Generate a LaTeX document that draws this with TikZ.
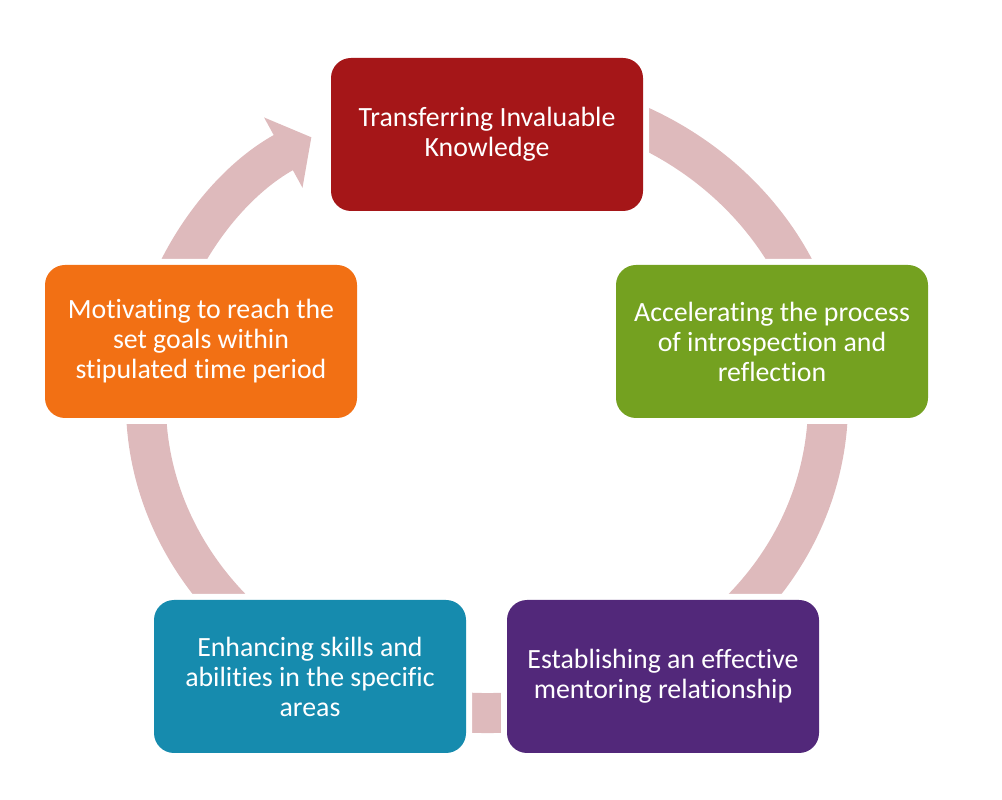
\documentclass[tikz,border=0pt]{standalone}
\usepackage{fontspec}
\setmainfont{Carlito}[Ligatures=NoCommon]
\usepackage{tikz}
\usetikzlibrary{arrows.meta,calc}
\definecolor{ringpink}{RGB}{222,186,188}
\definecolor{stepred}{RGB}{165,22,24}
\definecolor{stepgreen}{RGB}{116,161,32}
\definecolor{steppurple}{RGB}{82,40,122}
\definecolor{stepteal}{RGB}{22,139,174}
\definecolor{steporange}{RGB}{242,112,20}
\tikzset{
  cyclebox/.style={rounded corners=0.5cm, minimum width=7.8cm, minimum height=3.825cm,
    align=center, text=white, inner sep=0pt,
    preaction={draw=white, line width=0.3cm},
    font=\fontsize{19.8}{21.3}\selectfont},
  ringarrow/.style={draw=ringpink, line width=1cm,
    -{Triangle[length=0.8cm, width=1.96cm]}}
}

\begin{document}
\begin{tikzpicture}
  \useasboundingbox (0,0) rectangle (25.05,20);
  \coordinate (ctr) at (12.175,9.925);

  \draw[ringarrow] ($(ctr)+(80:8.525cm and 7.75cm)$)
    arc[start angle=80, end angle=-239, x radius=8.525cm, y radius=7.75cm];

  \node[cyclebox, fill=stepred] (transfer) at (12.175,16.6375) {Transferring Invaluable\\Knowledge};
  \node[cyclebox, fill=stepgreen] (accel) at (19.3,11.4625) {Accelerating the process\\of introspection and\\reflection};
  \node[cyclebox, fill=steppurple] (establish) at (16.575,3.0875) {Establishing an effective\\mentoring relationship};
  \node[cyclebox, fill=stepteal] (enhance) at (7.75,3.0875) {Enhancing skills and\\abilities in the specific\\areas};
  \node[cyclebox, fill=steporange] (motivate) at (5.025,11.4625) {Motivating to reach the\\set goals within\\stipulated time period};
\end{tikzpicture}
\end{document}
